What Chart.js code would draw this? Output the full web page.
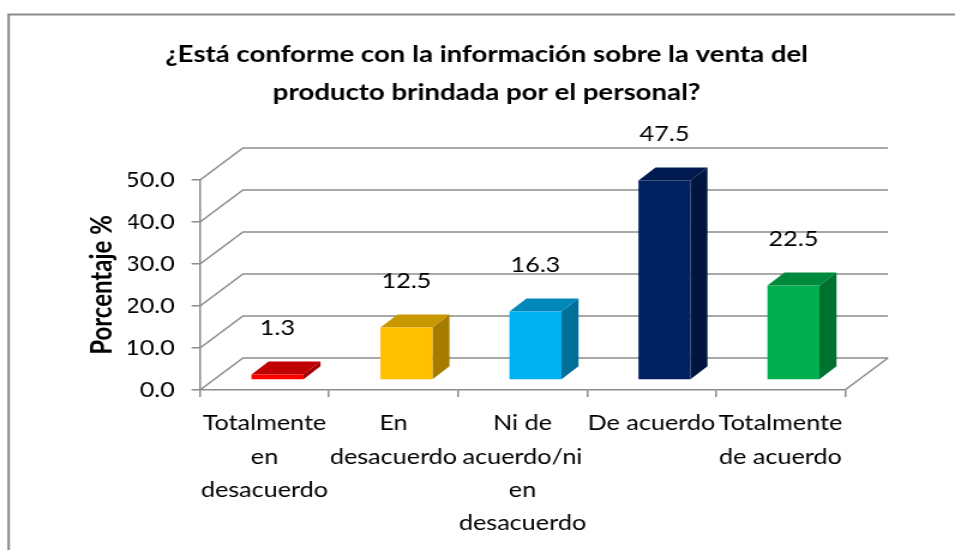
<!DOCTYPE html>
<html>
<head>
<meta charset="utf-8">
<script src="https://cdn.jsdelivr.net/npm/chart.js@4.4.1/dist/chart.umd.min.js"></script>
<style>
  html, body { margin: 0; padding: 0; background: #fff; overflow: hidden; }
  #chart { display: block; }
</style>
</head>
<body>
<!-- el original esta estirado en horizontal: se dibuja a 796 px y se estira a 955 -->
<canvas id="chart" width="796" height="550" style="width:955px;height:550px"></canvas>
<script>
const categories = [
  ["Totalmente", "en", "desacuerdo"],
  ["En", "desacuerdo"],
  ["Ni de", "acuerdo/ni", "en", "desacuerdo"],
  "De acuerdo",
  ["Totalmente", "de acuerdo"],
];
const percentages = [1.3, 12.5, 16.3, 47.5, 22.5];
const yTicks = [0, 10, 20, 30, 40, 50];

const frontColors = ["#ff0000", "#ffc000", "#00b0f0", "#002060", "#00b050"];
const topColors = ["#c00000", "#c99700", "#0088bb", "#001a4f", "#008a3d"];
const sideColors = ["#a00000", "#a67c00", "#006f99", "#00163f", "#00712f"];

const gridColor = "#8c8c8c";
const font = "Lato";

// profundidad del fondo y de las barras (px internos)
const BACK_DX = 35.8, BACK_DY = -32;
const BAR_FX = 10.8, BAR_FY = -10;
const BAR_DX = 14.2, BAR_DY = -13;

// marco, paredes y suelo en 3D
const walls3d = {
  id: "walls3d",
  beforeDraw(chart) {
    const ctx = chart.ctx;
    ctx.save();
    ctx.fillStyle = "#fff";
    ctx.fillRect(0, 0, chart.width, chart.height);
    ctx.strokeStyle = "#8a8a8a";
    ctx.lineWidth = 2;
    ctx.strokeRect(7.2, 14.5, chart.width + 50, chart.height + 50);
    ctx.restore();
  },
  beforeDatasetsDraw(chart) {
    const { ctx, chartArea } = chart;
    const y = chart.scales.y;
    ctx.save();
    ctx.strokeStyle = gridColor;
    ctx.lineWidth = 1.5;
    yTicks.forEach((v) => {
      const py = y.getPixelForValue(v);
      ctx.beginPath();
      ctx.moveTo(chartArea.left, py);
      ctx.lineTo(chartArea.left + BACK_DX, py + BACK_DY);
      ctx.lineTo(chartArea.right + BACK_DX, py + BACK_DY);
      ctx.stroke();
    });
    ctx.beginPath();
    ctx.moveTo(chartArea.right, chartArea.bottom);
    ctx.lineTo(chartArea.right + BACK_DX, chartArea.bottom + BACK_DY);
    ctx.stroke();
    ctx.restore();
  },
  afterDatasetsDraw(chart) {
    const ctx = chart.ctx;
    const meta = chart.getDatasetMeta(0);
    ctx.save();
    meta.data.forEach((bar, i) => {
      const x0 = bar.x - bar.width / 2 + BAR_FX;
      const x1 = bar.x + bar.width / 2 + BAR_FX;
      const top = bar.y + BAR_FY;
      const base = bar.base + BAR_FY;

      ctx.fillStyle = sideColors[i];
      ctx.beginPath();
      ctx.moveTo(x1, top);
      ctx.lineTo(x1 + BAR_DX, top + BAR_DY);
      ctx.lineTo(x1 + BAR_DX, base + BAR_DY);
      ctx.lineTo(x1, base);
      ctx.closePath();
      ctx.fill();

      ctx.fillStyle = topColors[i];
      ctx.beginPath();
      ctx.moveTo(x0, top);
      ctx.lineTo(x0 + BAR_DX, top + BAR_DY);
      ctx.lineTo(x1 + BAR_DX, top + BAR_DY);
      ctx.lineTo(x1, top);
      ctx.closePath();
      ctx.fill();

      ctx.fillStyle = frontColors[i];
      ctx.fillRect(x0, top, x1 - x0, base - top);

      // etiqueta del valor
      ctx.fillStyle = "#000";
      ctx.font = "21px " + font;
      ctx.textAlign = "center";
      ctx.textBaseline = "middle";
      ctx.fillText(percentages[i].toFixed(1), (x0 + x1) / 2, top - 46);
    });
    ctx.restore();
  },
};

new Chart(document.getElementById("chart"), {
  type: "bar",
  data: {
    labels: categories,
    datasets: [
      {
        label: "Porcentaje %",
        data: percentages,
        backgroundColor: "rgba(0,0,0,0)",
        borderWidth: 0,
        categoryPercentage: 1,
        barPercentage: 0.403,
      },
    ],
  },
  options: {
    responsive: false,
    animation: false,
    events: [],
    layout: { padding: { left: 107, right: 91.7, top: 0, bottom: 0 } },
    plugins: {
      legend: { display: false },
      tooltip: { enabled: false },
      title: {
        display: true,
        text: [
          "¿Está conforme con la información sobre la venta del",
          "producto brindada por el personal?",
        ],
        color: "#000",
        font: { family: font, size: 23, weight: "bold", lineHeight: 1.652 },
        padding: { top: 36, bottom: 68 },
      },
    },
    scales: {
      x: {
        afterFit: (s) => { s.height = 160; },
        ticks: {
          color: "#000",
          font: { family: font, size: 21, lineHeight: 1.58 },
          autoSkip: false,
          maxRotation: 0,
          padding: 10,
        },
        grid: {
          offset: true,
          drawOnChartArea: false,
          tickLength: 7,
          color: gridColor,
          lineWidth: 1.5,
        },
        border: { color: gridColor, width: 1.5 },
      },
      y: {
        min: 0,
        max: 50,
        afterFit: (s) => { s.width = 59.7; },
        afterBuildTicks: (s) => { s.ticks = yTicks.map((v) => ({ value: v })); },
        ticks: {
          color: "#000",
          font: { family: font, size: 21 },
          padding: 14,
          callback: (v) => Number(v).toFixed(1),
        },
        grid: {
          drawOnChartArea: false,
          tickLength: 7,
          color: gridColor,
          lineWidth: 1.5,
        },
        border: { color: gridColor, width: 1.5 },
        title: {
          display: true,
          text: "Porcentaje %",
          color: "#000",
          font: { family: font, size: 24, weight: "bold", lineHeight: 1.2 },
          padding: { top: -36, bottom: 0 },
        },
      },
    },
  },
  plugins: [walls3d],
});
</script>
</body>
</html>
